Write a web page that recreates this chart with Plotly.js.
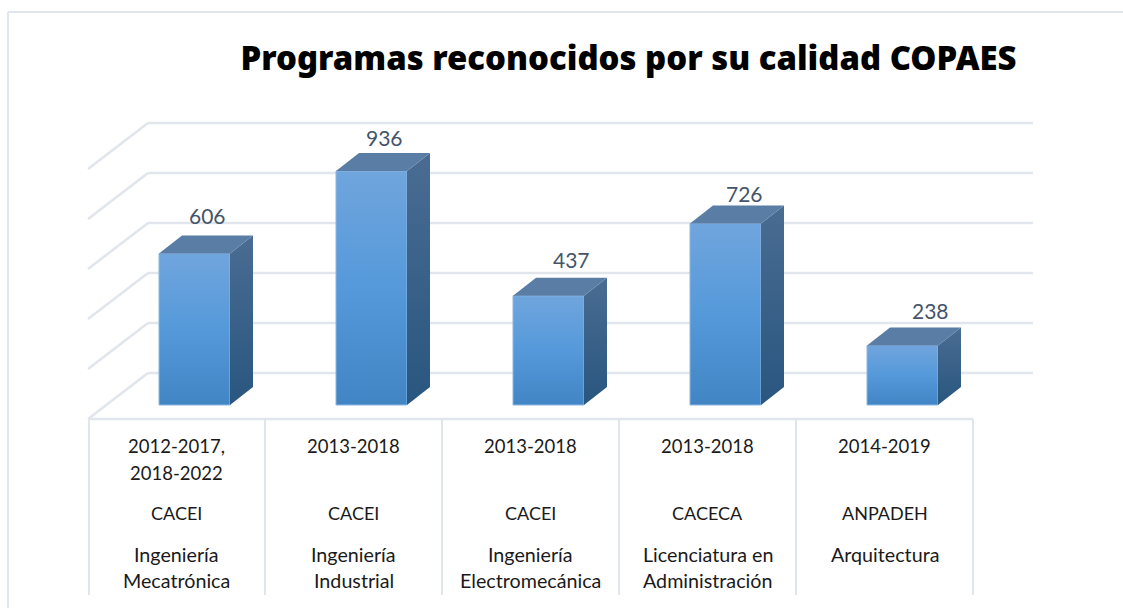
<!DOCTYPE html>
<html>
<head>
<meta charset="utf-8">
<script src="https://cdn.plot.ly/plotly-3.0.1.min.js"></script>
<style>
  html, body { margin: 0; padding: 0; background: #fff; }
</style>
</head>
<body>
<div id="chart" style="width:1123px;height:608px"></div>
<script>
var values = [606, 936, 437, 726, 238];
var periods = ["2012-2017,<br>2018-2022", "2013-2018", "2013-2018", "2013-2018", "2014-2019"];
var agencies = ["CACEI", "CACEI", "CACEI", "CACECA", "ANPADEH"];
var programs = ["Ingeniería<br>Mecatrónica", "Ingeniería<br>Industrial", "Ingeniería<br>Electromecánica", "Licenciatura en<br>Administración", "Arquitectura"];
var gridValues = [0, 200, 400, 600, 800, 1000];

// px helpers, the plot fills the whole page
var W = 1123, H = 608;
var CELL = 177, X0 = 176.5;   // category 0 center and category width
var PX_PER_UNIT = 0.25, Y0 = 373;  // value 0 on the back wall
function px(p) { return (p - X0) / CELL; }
function py(p) { return (Y0 - p) / PX_PER_UNIT; }

var barShift = 18 / CELL;
var barWidth = 71 / CELL;
var barBase = py(405);
var depthX = 23 / CELL;
var depthY = 18 / PX_PER_UNIT;
var wallX = 60 / CELL;
var wallY = 46 / PX_PER_UNIT;
var backLeft = px(148), backRight = px(1033);

// fine tuning of value labels against the bar tops
var labelDx = [12.5, 13, 23, 19, 27.5];
var labelDy = [20, 16, 18, 12, 17];

var GRID = "#e1e5ec";
var traces = [];
var shapes = [];

// grid goes in shapes so it stays behind the bars
gridValues.forEach(function (v) {
  shapes.push({
    type: "line", xref: "x", yref: "y", layer: "below",
    x0: backLeft - wallX, y0: v - wallY, x1: backLeft, y1: v,
    line: { color: GRID, width: 2.5 }
  });
  shapes.push({
    type: "line", xref: "x", yref: "y", layer: "below",
    x0: backLeft, y0: v, x1: backRight, y1: v,
    line: { color: GRID, width: 2.5 }
  });
});

var cats = values.map(function (v, i) { return i + barShift; });
var tops = values.map(function (v) { return v + barBase; });

// side and top faces of each bar
values.forEach(function (v, i) {
  var l = cats[i] - barWidth / 2, r = cats[i] + barWidth / 2, t = tops[i];
  traces.push({
    x: [r, r + depthX, r + depthX, r, r],
    y: [barBase, barBase + depthY, t + depthY, t, barBase],
    mode: "lines", fill: "toself", fillcolor: "#38618a",
    line: { width: 0 }, hoverinfo: "skip"
  });
  traces.push({
    x: [l, r, r + depthX, l + depthX, l],
    y: [t, t, t + depthY, t + depthY, t],
    mode: "lines", fill: "toself", fillcolor: "#5a7da6",
    line: { width: 0 }, hoverinfo: "skip"
  });
});

traces.push({
  type: "bar",
  x: cats,
  y: values,
  base: barBase,
  width: barWidth,
  marker: { color: "#5598d9", line: { color: "#8db6e2", width: 1 } },
  hoverinfo: "skip"
});

var annotations = values.map(function (v, i) {
  return {
    x: cats[i], y: tops[i] + depthY, text: String(v),
    xref: "x", yref: "y", showarrow: false,
    xshift: labelDx[i], yshift: labelDy[i],
    font: { family: "Lato, sans-serif", size: 21, color: "#44546a" }
  };
});

// table under the bars, one annotation per line of text
function addCell(text, col, yPx, size) {
  text.split("<br>").forEach(function (line, k) {
    annotations.push({
      xref: "paper", yref: "paper",
      x: (X0 + col * CELL) / W, y: 1 - (yPx + k * 26.5) / H,
      xanchor: "center", yanchor: "middle",
      text: line, showarrow: false,
      font: { family: "Lato, sans-serif", size: size, color: "#1a1a1a" }
    });
  });
}
values.forEach(function (v, i) {
  addCell(periods[i], i, 446, 18.5);
  addCell(agencies[i], i, 513, 18);
  addCell(programs[i], i, 554, 19.7);
});

function paperLine(x0, y0, x1, y1, color, w) {
  shapes.push({
    type: "line", xref: "paper", yref: "paper", layer: "below",
    x0: x0 / W, x1: x1 / W, y0: 1 - y0 / H, y1: 1 - y1 / H,
    line: { color: color, width: w }
  });
}
paperLine(88, 419, 973, 419, GRID, 2.5);
[89, 265, 442, 619, 796, 973].forEach(function (x) {
  paperLine(x, 419, x, 595, GRID, 2);
});
// chart frame
paperLine(8, 12, 8, 608, GRID, 2);
paperLine(8, 12, 1123, 12, GRID, 2);

var layout = {
  width: W, height: H,
  margin: { l: 0, r: 0, t: 0, b: 0 },
  showlegend: false,
  paper_bgcolor: "#fff",
  plot_bgcolor: "#fff",
  title: {
    text: "Programas reconocidos por su calidad COPAES",
    x: 628.5 / W, xanchor: "center",
    y: 1 - 58 / H, yanchor: "middle",
    font: { family: "Noto Sans, sans-serif", size: 32.9, weight: 900, color: "#000" }
  },
  xaxis: { visible: false, range: [px(0), px(W)], fixedrange: true },
  yaxis: { visible: false, range: [py(H), py(0)], fixedrange: true },
  annotations: annotations,
  shapes: shapes
};

// plotly has no gradient fill for these, so add them to the svg afterwards
function addGradient(svg, id, stops) {
  var NS = "http://www.w3.org/2000/svg";
  var g = document.createElementNS(NS, "linearGradient");
  g.setAttribute("id", id);
  g.setAttribute("x1", "0"); g.setAttribute("y1", "0");
  g.setAttribute("x2", "0"); g.setAttribute("y2", "1");
  stops.forEach(function (s) {
    var st = document.createElementNS(NS, "stop");
    st.setAttribute("offset", s[0]);
    st.setAttribute("stop-color", s[1]);
    g.appendChild(st);
  });
  svg.querySelector("defs").appendChild(g);
}

Plotly.newPlot("chart", traces, layout, { displayModeBar: false, staticPlot: true }).then(function (gd) {
  var svg = gd.querySelector(".main-svg");
  addGradient(svg, "frontGrad", [[0, "#70a5dd"], [0.5, "#5599da"], [1, "#4285c5"]]);
  addGradient(svg, "sideGrad", [[0, "#4a6c92"], [1, "#29567f"]]);
  gd.querySelectorAll(".barlayer .point path").forEach(function (p) {
    p.style.fill = "url(#frontGrad)";
  });
  var scatter = gd.querySelectorAll(".scatterlayer .trace");
  values.forEach(function (v, i) {
    var side = scatter[i * 2].querySelector(".js-fill");
    if (side) side.style.fill = "url(#sideGrad)";
  });
});
</script>
</body>
</html>
